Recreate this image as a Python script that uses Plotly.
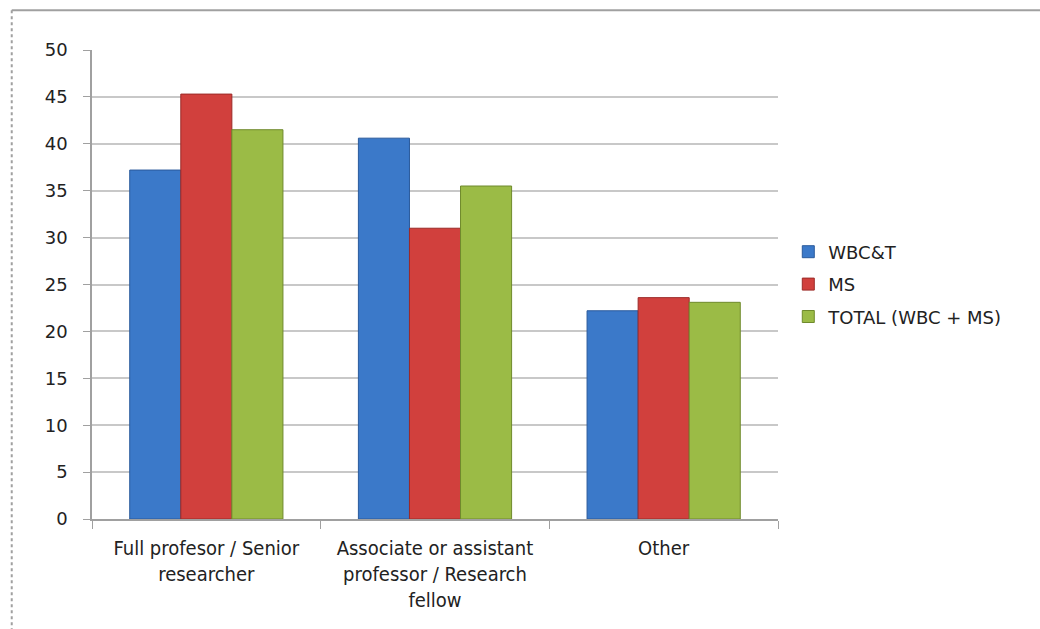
import plotly.graph_objects as go

categories = [
    "Full profesor / Senior<br>researcher",
    "Associate or assistant<br>professor / Research<br>fellow",
    "Other",
]
wbct = [37.2, 40.6, 22.2]
ms = [45.3, 31.0, 23.6]
total = [41.5, 35.5, 23.1]

series = [
    ("WBC&T", wbct, "#3b79c9", "#2a5a9c"),
    ("MS", ms, "#d1403d", "#9c2a28"),
    ("TOTAL (WBC + MS)", total, "#9bbb46", "#6f8a2c"),
]

fig = go.Figure()
for name, vals, fill, edge in series:
    fig.add_trace(go.Bar(
        name=name, x=categories, y=vals, legendgroup=name,
        marker=dict(color=fill, line=dict(color=edge, width=1)),
    ))

fig.update_layout(
    width=1040, height=629,
    margin=dict(l=92, r=262, t=50, b=110),
    paper_bgcolor="white", plot_bgcolor="white",
    barmode="group", bargap=0.33, bargroupgap=0,
    font=dict(family="DejaVu Sans", color="#222222"),
    legend=dict(
        x=1.015, y=0.5, xanchor="left", yanchor="middle",
        font=dict(family="DejaVu Sans", size=18, color="#222222"),
        itemwidth=30, traceorder="grouped", tracegroupgap=6,
    ),
    shapes=[
        dict(type="line", xref="paper", yref="paper",
             x0=-0.117, x1=1.5, y0=1.085, y1=1.085,
             line=dict(color="#a0a0a0", width=2)),
        dict(type="line", xref="paper", yref="paper",
             x0=-0.117, x1=-0.117, y0=1.085, y1=-0.25,
             line=dict(color="#a0a0a0", width=2, dash="dot")),
    ],
)

fig.update_yaxes(
    range=[0, 50], dtick=5,
    showgrid=True, gridcolor="#c8c8c8", gridwidth=1.5,
    showline=True, linecolor="#a0a0a0", linewidth=1.5,
    ticks="outside", ticklen=7, tickcolor="#a0a0a0",
    tickfont=dict(family="DejaVu Sans", size=18, color="#222222"),
    ticklabelstandoff=12,
    zeroline=False,
)
fig.update_xaxes(
    showline=True, linecolor="#a0a0a0", linewidth=1.5,
    ticks="outside", ticklen=8, tickcolor="#a0a0a0", tickson="boundaries",
    tickfont=dict(family="DejaVu Sans Condensed, Liberation Sans Narrow, DejaVu Sans", size=20, color="#222222"),
    ticklabelstandoff=10,
)

fig.write_html("out.html")
